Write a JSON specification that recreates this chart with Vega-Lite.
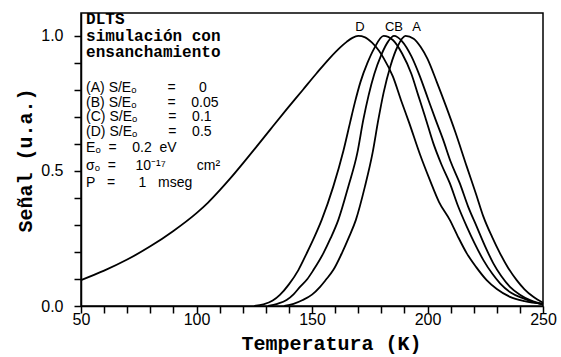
{
  "$schema": "https://vega.github.io/schema/vega-lite/v6.json",
  "width": 462,
  "height": 293,
  "autosize": {"type": "none"},
  "padding": {"left": 81, "top": 13, "right": 18, "bottom": 51},
  "background": "white",
  "config": {
    "view": {"stroke": "black", "strokeWidth": 1.5},
    "axis": {
      "domainColor": "black", "domainWidth": 1.5,
      "labelColor": "black", "labelFont": "Liberation Sans", "labelFontSize": 16,
      "titleColor": "black", "titleFont": "Liberation Mono", "titleFontWeight": "bold", "titleFontSize": 20,
      "grid": false
    }
  },
  "datasets": {
    "curves": [
      {"curve": "A", "T": 138, "S": 0.0}, {"curve": "A", "T": 142, "S": 0.008}, {"curve": "A", "T": 146, "S": 0.022}, {"curve": "A", "T": 150, "S": 0.042}, {"curve": "A", "T": 153.5, "S": 0.071}, {"curve": "A", "T": 156, "S": 0.097}, {"curve": "A", "T": 159.2, "S": 0.133}, {"curve": "A", "T": 163, "S": 0.197}, {"curve": "A", "T": 166, "S": 0.255}, {"curve": "A", "T": 169, "S": 0.319}, {"curve": "A", "T": 172.9, "S": 0.442}, {"curve": "A", "T": 176.2, "S": 0.566}, {"curve": "A", "T": 178.7, "S": 0.689}, {"curve": "A", "T": 181, "S": 0.79}, {"curve": "A", "T": 184, "S": 0.89}, {"curve": "A", "T": 187, "S": 0.96}, {"curve": "A", "T": 190.5, "S": 1.0}, {"curve": "A", "T": 194, "S": 0.99}, {"curve": "A", "T": 197, "S": 0.96}, {"curve": "A", "T": 200, "S": 0.915}, {"curve": "A", "T": 204, "S": 0.83}, {"curve": "A", "T": 208, "S": 0.74}, {"curve": "A", "T": 212, "S": 0.645}, {"curve": "A", "T": 217, "S": 0.516}, {"curve": "A", "T": 221, "S": 0.415}, {"curve": "A", "T": 224.2, "S": 0.331}, {"curve": "A", "T": 228, "S": 0.255}, {"curve": "A", "T": 231.4, "S": 0.195}, {"curve": "A", "T": 235, "S": 0.14}, {"curve": "A", "T": 238.6, "S": 0.096}, {"curve": "A", "T": 242, "S": 0.062}, {"curve": "A", "T": 245.8, "S": 0.034}, {"curve": "A", "T": 250, "S": 0.012},
      {"curve": "B", "T": 131, "S": 0.0}, {"curve": "B", "T": 135, "S": 0.008}, {"curve": "B", "T": 139, "S": 0.022}, {"curve": "B", "T": 142, "S": 0.043}, {"curve": "B", "T": 144.8, "S": 0.071}, {"curve": "B", "T": 148, "S": 0.1}, {"curve": "B", "T": 150.6, "S": 0.133}, {"curve": "B", "T": 154.9, "S": 0.195}, {"curve": "B", "T": 158, "S": 0.25}, {"curve": "B", "T": 161.4, "S": 0.319}, {"curve": "B", "T": 165.7, "S": 0.442}, {"curve": "B", "T": 169.6, "S": 0.566}, {"curve": "B", "T": 172.2, "S": 0.689}, {"curve": "B", "T": 174.5, "S": 0.78}, {"curve": "B", "T": 177, "S": 0.86}, {"curve": "B", "T": 180, "S": 0.93}, {"curve": "B", "T": 183, "S": 0.98}, {"curve": "B", "T": 185.5, "S": 1.0}, {"curve": "B", "T": 189, "S": 0.98}, {"curve": "B", "T": 193, "S": 0.925}, {"curve": "B", "T": 196.5, "S": 0.855}, {"curve": "B", "T": 200.4, "S": 0.763}, {"curve": "B", "T": 203.5, "S": 0.69}, {"curve": "B", "T": 206.8, "S": 0.615}, {"curve": "B", "T": 210, "S": 0.535}, {"curve": "B", "T": 214, "S": 0.454}, {"curve": "B", "T": 217.5, "S": 0.37}, {"curve": "B", "T": 221.3, "S": 0.294}, {"curve": "B", "T": 225, "S": 0.22}, {"curve": "B", "T": 228.5, "S": 0.158}, {"curve": "B", "T": 232, "S": 0.11}, {"curve": "B", "T": 235.7, "S": 0.071}, {"curve": "B", "T": 240, "S": 0.042}, {"curve": "B", "T": 244.4, "S": 0.022}, {"curve": "B", "T": 250, "S": 0.006},
      {"curve": "C", "T": 125, "S": 0.0}, {"curve": "C", "T": 129, "S": 0.006}, {"curve": "C", "T": 133, "S": 0.02}, {"curve": "C", "T": 136.1, "S": 0.041}, {"curve": "C", "T": 140, "S": 0.08}, {"curve": "C", "T": 144.1, "S": 0.133}, {"curve": "C", "T": 147.7, "S": 0.195}, {"curve": "C", "T": 151, "S": 0.255}, {"curve": "C", "T": 154.2, "S": 0.319}, {"curve": "C", "T": 159.2, "S": 0.442}, {"curve": "C", "T": 163.6, "S": 0.575}, {"curve": "C", "T": 166.5, "S": 0.68}, {"curve": "C", "T": 168.6, "S": 0.755}, {"curve": "C", "T": 171, "S": 0.83}, {"curve": "C", "T": 174, "S": 0.9}, {"curve": "C", "T": 177, "S": 0.955}, {"curve": "C", "T": 181, "S": 1.0}, {"curve": "C", "T": 185, "S": 0.985}, {"curve": "C", "T": 189, "S": 0.935}, {"curve": "C", "T": 193, "S": 0.86}, {"curve": "C", "T": 196, "S": 0.78}, {"curve": "C", "T": 199, "S": 0.7}, {"curve": "C", "T": 202.5, "S": 0.603}, {"curve": "C", "T": 206, "S": 0.525}, {"curve": "C", "T": 209.7, "S": 0.454}, {"curve": "C", "T": 213, "S": 0.375}, {"curve": "C", "T": 217, "S": 0.294}, {"curve": "C", "T": 220.5, "S": 0.23}, {"curve": "C", "T": 224.2, "S": 0.17}, {"curve": "C", "T": 228, "S": 0.12}, {"curve": "C", "T": 231.4, "S": 0.084}, {"curve": "C", "T": 236, "S": 0.05}, {"curve": "C", "T": 241.5, "S": 0.028}, {"curve": "C", "T": 246, "S": 0.014}, {"curve": "C", "T": 250, "S": 0.006},
      {"curve": "D", "T": 50, "S": 0.096}, {"curve": "D", "T": 60, "S": 0.131}, {"curve": "D", "T": 70, "S": 0.172}, {"curve": "D", "T": 80, "S": 0.221}, {"curve": "D", "T": 90, "S": 0.278}, {"curve": "D", "T": 100, "S": 0.344}, {"curve": "D", "T": 105, "S": 0.383}, {"curve": "D", "T": 110, "S": 0.428}, {"curve": "D", "T": 115, "S": 0.476}, {"curve": "D", "T": 120, "S": 0.527}, {"curve": "D", "T": 126, "S": 0.59}, {"curve": "D", "T": 132, "S": 0.654}, {"curve": "D", "T": 139, "S": 0.728}, {"curve": "D", "T": 146, "S": 0.8}, {"curve": "D", "T": 152, "S": 0.862}, {"curve": "D", "T": 158, "S": 0.921}, {"curve": "D", "T": 162, "S": 0.956}, {"curve": "D", "T": 165, "S": 0.978}, {"curve": "D", "T": 167.5, "S": 0.993}, {"curve": "D", "T": 170, "S": 1.0}, {"curve": "D", "T": 173, "S": 0.995}, {"curve": "D", "T": 176, "S": 0.975}, {"curve": "D", "T": 179, "S": 0.945}, {"curve": "D", "T": 181, "S": 0.918}, {"curve": "D", "T": 185, "S": 0.85}, {"curve": "D", "T": 188.5, "S": 0.763}, {"curve": "D", "T": 192, "S": 0.68}, {"curve": "D", "T": 196.8, "S": 0.56}, {"curve": "D", "T": 201, "S": 0.467}, {"curve": "D", "T": 205, "S": 0.385}, {"curve": "D", "T": 209.7, "S": 0.318}, {"curve": "D", "T": 213, "S": 0.26}, {"curve": "D", "T": 217, "S": 0.195}, {"curve": "D", "T": 221, "S": 0.145}, {"curve": "D", "T": 225.6, "S": 0.096}, {"curve": "D", "T": 230, "S": 0.063}, {"curve": "D", "T": 235.7, "S": 0.034}, {"curve": "D", "T": 242, "S": 0.018}, {"curve": "D", "T": 250, "S": 0.008}
    ],
    "notesBold": [
      {"T": 52.2, "S": 1.061, "label": "DLTS"},
      {"T": 52.2, "S": 1.0, "label": "simulación con"},
      {"T": 52.2, "S": 0.939, "label": "ensanchamiento"}
    ],
    "notesSans": [
      {"T": 52.2, "S": 0.807, "label": "(A)\u00a0S/Eₒ\u00a0\u00a0\u00a0\u00a0\u00a0\u00a0\u00a0\u00a0=\u00a0\u00a0\u00a0\u00a0\u00a0\u00a00"},
      {"T": 52.2, "S": 0.753, "label": "(B)\u00a0S/Eₒ\u00a0\u00a0\u00a0\u00a0\u00a0\u00a0\u00a0\u00a0=\u00a0\u00a0\u00a0\u00a00.05"},
      {"T": 52.2, "S": 0.699, "label": "(C)\u00a0S/Eₒ\u00a0\u00a0\u00a0\u00a0\u00a0\u00a0\u00a0\u00a0=\u00a0\u00a0\u00a0\u00a00.1"},
      {"T": 52.2, "S": 0.645, "label": "(D)\u00a0S/Eₒ\u00a0\u00a0\u00a0\u00a0\u00a0\u00a0\u00a0\u00a0=\u00a0\u00a0\u00a0\u00a00.5"},
      {"T": 52.2, "S": 0.585, "label": "Eₒ\u00a0\u00a0=\u00a0\u00a0\u00a0\u00a00.2\u00a0\u00a0eV"},
      {"T": 52.2, "S": 0.519, "label": "σₒ\u00a0\u00a0=\u00a0\u00a0\u00a0\u00a0\u00a010⁻¹⁷\u00a0\u00a0\u00a0\u00a0\u00a0\u00a0\u00a0\u00a0cm²"},
      {"T": 52.2, "S": 0.455, "label": "P\u00a0\u00a0\u00a0=\u00a0\u00a0\u00a0\u00a0\u00a0\u00a01\u00a0\u00a0\u00a0mseg"}
    ],
    "peaks": [
      {"T": 170.8, "S": 1.033, "label": "D"},
      {"T": 185.5, "S": 1.033, "label": "CB"},
      {"T": 195.3, "S": 1.033, "label": "A"}
    ]
  },
  "encoding": {
    "x": {
      "field": "T", "type": "quantitative",
      "scale": {"domain": [50, 250], "nice": false, "zero": false},
      "axis": {
        "title": "Temperatura (K)",
        "tickCount": 20,
        "labelExpr": "datum.value % 50 == 0 ? datum.label : ''",
        "ticks": true, "tickSize": 7, "tickWidth": 1.5, "tickColor": "#000000", "labelPadding": -2, "labelFlush": false, "labelOverlap": false,
        "titleX": 250, "titleY": 43, "titleAlign": "center", "titleBaseline": "alphabetic"
      }
    },
    "y": {
      "field": "S", "type": "quantitative",
      "scale": {"domain": [0, 1.085], "nice": false, "zero": true},
      "axis": {
        "title": "Señal (u.a.)",
        "tickCount": 10,
        "labelExpr": "abs(datum.value) < 1e-9 || abs(datum.value - 0.5) < 1e-9 || abs(datum.value - 1) < 1e-9 ? format(datum.value, '.1f') : ''",
        "ticks": true, "tickSize": 7, "tickWidth": 1.5, "tickColor": "#000000", "labelPadding": 11, "labelOverlap": false,
        "titleX": -56, "titleY": 147, "titleAngle": -90, "titleAlign": "center", "titleBaseline": "middle"
      }
    }
  },
  "layer": [
    {
      "data": {"name": "curves"},
      "mark": {"type": "line", "color": "black", "strokeWidth": 1.8, "interpolate": "monotone"},
      "encoding": {"detail": {"field": "curve", "type": "nominal"}}
    },
    {
      "data": {"name": "notesBold"},
      "mark": {"type": "text", "align": "left", "baseline": "middle", "font": "Liberation Mono", "fontWeight": "bold", "fontSize": 16, "color": "black"},
      "encoding": {"text": {"field": "label", "type": "nominal"}}
    },
    {
      "data": {"name": "notesSans"},
      "mark": {"type": "text", "align": "left", "baseline": "middle", "font": "Liberation Sans", "fontSize": 14, "color": "black"},
      "encoding": {"text": {"field": "label", "type": "nominal"}}
    },
    {
      "data": {"name": "peaks"},
      "mark": {"type": "text", "align": "center", "baseline": "middle", "font": "Liberation Sans", "fontSize": 13, "color": "black"},
      "encoding": {"text": {"field": "label", "type": "nominal"}}
    }
  ]
}
